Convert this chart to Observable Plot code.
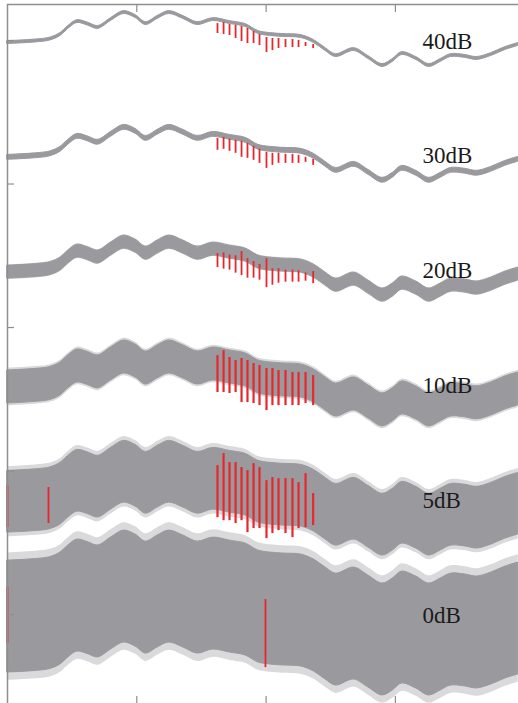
<!DOCTYPE html>
<html>
<head>
<meta charset="utf-8">
<script src="https://cdn.jsdelivr.net/npm/d3@7"></script>
<script src="https://cdn.jsdelivr.net/npm/@observablehq/plot@0.6"></script>
<style>
  html, body { margin: 0; padding: 0; background: #fff; overflow: hidden; }
  #chart svg { display: block; }
</style>
</head>
<body>
<div id="chart"></div>
<script>
// ---- data ----
const snrLabels = ["40dB", "30dB", "20dB", "10dB", "5dB", "0dB"];
const seriesOffset = [0, -8, -16, -24, -32, -40];
const noiseHalfWidth = [0.1, 0.17, 0.45, 1.15, 2.15, 3.9];

// underlying clean signal (time, amplitude)
const signalT = [0, 0.10, 0.22, 0.33, 0.41, 0.47, 0.54, 0.62, 0.70, 0.80, 0.90, 0.99, 1.07, 1.16, 1.25, 1.36, 1.47, 1.59, 1.72, 1.84, 1.94, 2.03, 2.13, 2.27, 2.37, 2.46, 2.54, 2.68, 2.79, 2.90, 2.98, 3.05, 3.16, 3.26, 3.35, 3.43, 3.54, 3.63, 3.74, 3.85, 3.95];
const signalV = [-0.14, -0.10, -0.03, 0.10, 0.42, 0.91, 1.32, 1.15, 0.91, 1.46, 1.95, 1.67, 1.18, 1.60, 1.95, 1.60, 1.18, 1.46, 1.25, 1.05, 0.56, 0.42, 0.35, 0.28, -0.07, -0.63, -1.05, -0.63, -1.18, -1.74, -1.39, -0.91, -1.25, -1.74, -1.39, -1.05, -1.11, -1.25, -0.98, -0.56, -0.28];

// detected fault impulses (red)
const spikeT = [1.624, 1.671, 1.717, 1.764, 1.810, 1.856, 1.903, 1.949, 2.003, 2.049, 2.096, 2.150, 2.204, 2.251, 2.305, 2.364];
const spikeTop40 = [1.18, 1.25, 1.12, 1.05, 0.98, 0.84, 0.63, 0.42, 0.21, 0.14, 0.14, 0.07, 0.07, 0, -0.14, -0.28];
const spikeBot40 = [0.49, 0.42, 0.35, 0.14, -0.07, -0.21, -0.21, -0.35, -0.84, -0.70, -0.56, -0.49, -0.49, -0.49, -0.42, -0.56];
const spikeTop30 = [-6.82, -6.75, -6.88, -6.95, -7.02, -7.16, -7.37, -7.58, -7.79, -7.86, -7.86, -7.93, -7.93, -8.0, -8.14, -8.28];
const spikeBot30 = [-7.65, -7.58, -7.72, -7.86, -8.14, -8.21, -8.35, -8.56, -8.91, -8.70, -8.56, -8.56, -8.56, -8.56, -8.49, -8.70];
const spikeTop20 = [-14.85, -14.80, -14.95, -15.0, -14.70, -15.2, -15.4, -15.6, -15.2, -15.9, -15.9, -16.0, -16.0, -16.05, -16.2, -16.1];
const spikeBot20 = [-15.82, -15.93, -16.0, -16.21, -16.38, -16.56, -16.56, -16.7, -17.22, -17.05, -16.91, -16.84, -16.84, -16.84, -16.77, -16.94];
const spikeTop10 = [-21.96, -21.61, -22.09, -22.30, -22.16, -22.30, -22.51, -22.65, -22.86, -22.86, -23.0, -23.0, -23.14, -23.14, -23.14, -23.35];
const spikeBot10 = [-24.53, -24.53, -24.60, -24.53, -25.23, -25.23, -25.30, -25.44, -25.79, -25.44, -25.44, -25.44, -25.44, -25.44, -25.30, -25.44];
const spikeTop5 = [-29.62, -28.79, -29.41, -29.41, -29.76, -29.97, -29.48, -29.76, -30.67, -30.46, -30.53, -30.53, -30.53, -30.81, -30.18, -31.57];
const spikeBot5 = [-33.25, -33.46, -33.46, -33.66, -33.46, -34.29, -34.01, -34.01, -34.71, -34.36, -34.15, -34.36, -34.64, -34.01, -33.94, -33.80];
// isolated detections at low SNR
const extraT = [0, 0.317, 0, 1.995];
const extraTop = [-31.01, -31.15, -38.12, -38.96];
const extraBot = [-33.94, -33.66, -42.03, -43.70];

const xDomain = [0, 3.952];
const yDomain = [-46.2, 2.51];
const xTicks = [1, 2, 3];
const yTicks = [0, -10, -20, -30, -40];

// ---- build tables ----
const bands = [];
snrLabels.forEach((lab, i) => {
  signalT.forEach((t, j) => {
    const c = signalV[j] + seriesOffset[i];
    bands.push({s: lab, i, t, lo: c - noiseHalfWidth[i], hi: c + noiseHalfWidth[i], hw: noiseHalfWidth[i]});
  });
});
const spikeSets = [[spikeTop40, spikeBot40], [spikeTop30, spikeBot30], [spikeTop20, spikeBot20], [spikeTop10, spikeBot10], [spikeTop5, spikeBot5]];
const spikes = [];
spikeSets.forEach(([tops, bots], i) => {
  spikeT.forEach((t, j) => spikes.push({t, y1: tops[j], y2: bots[j], w: i < 3 ? 1.8 : 2.2}));
});
extraT.forEach((t, j) => spikes.push({t, y1: extraTop[j], y2: extraBot[j], w: 1.8}));

const grey = "#9a9a9e";
const frameColor = "#8e8e8e";
const red = "#e8262b";

const fringe = bands.filter(d => d.i >= 2);

const chart = Plot.plot({
  width: 518,
  height: 703,
  marginLeft: 7,
  marginTop: 4,
  marginRight: 0,
  marginBottom: 0,
  x: {domain: xDomain, axis: null},
  y: {domain: yDomain, axis: null},
  marks: [
    Plot.areaY(fringe, {x: "t", y1: d => d.lo - d.hw * 0.14, y2: d => d.hi + d.hw * 0.14, z: "s", fill: "#dadadc", curve: "catmull-rom"}),
    Plot.areaY(bands, {x: "t", y1: "lo", y2: "hi", z: "s", fill: grey, stroke: grey, strokeWidth: 1, curve: "catmull-rom"}),
    Plot.ruleX(spikes, {x: "t", y1: "y1", y2: "y2", stroke: red, strokeWidth: "w"}),
    Plot.ruleX([xDomain[0]], {stroke: frameColor, strokeWidth: 1.5}),
    Plot.ruleY([yDomain[1]], {stroke: frameColor, strokeWidth: 1.5}),
    Plot.axisY(yTicks, {anchor: "left", tickSize: -7, tickFormat: () => "", label: null, stroke: frameColor, strokeWidth: 1.2}),
    Plot.axisX(xTicks, {anchor: "top", tickSize: -7, tickFormat: () => "", label: null, stroke: frameColor, strokeWidth: 1.2}),
    Plot.axisX(xTicks, {anchor: "bottom", tickSize: -7, tickFormat: () => "", label: null, stroke: frameColor, strokeWidth: 1.2}),
    Plot.text(snrLabels, {x: () => 3.21, y: (d, i) => seriesOffset[i] - 0.56, text: d => d, textAnchor: "start", lineAnchor: "bottom", fontFamily: "Liberation Serif", fontSize: 23, fill: "#1a1a1a"})
  ]
});
document.getElementById("chart").appendChild(chart);
</script>
</body>
</html>
